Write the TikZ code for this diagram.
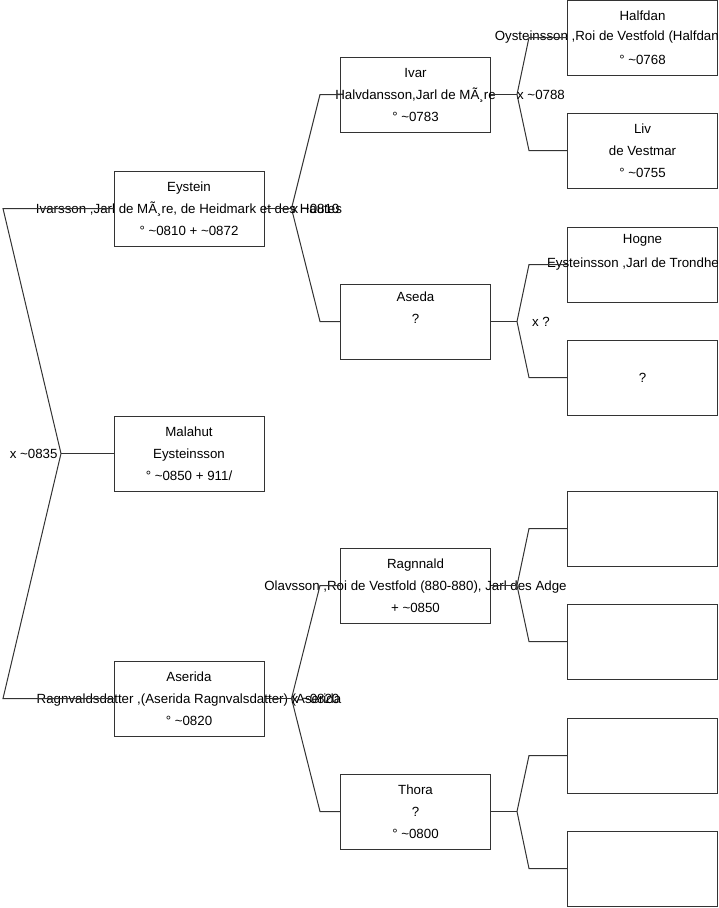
\documentclass[tikz,border=0pt]{standalone}
\usepackage{fontspec}
\setmainfont{Liberation Sans}
\usetikzlibrary{positioning}
\definecolor{linegray}{RGB}{51,51,51}

\begin{document}
\begin{tikzpicture}[x=1pt, y=-1pt, every node/.style={font=\fontsize{13.3}{22}\selectfont},
  person/.style={draw=linegray, line width=1pt, rectangle, minimum width=150pt, minimum height=75pt, inner sep=0pt},
  every label/.style={align=center},
  link/.style={draw=linegray, line width=1pt}]
\useasboundingbox (0,0) rectangle (719,908);
% first generation
\node[person, label={center:{Eystein\\Ivarsson ,Jarl de MÃ¸re, de Heidmark et des Hautes\\° \textasciitilde0810 + \textasciitilde0872}}] (eystein) at (189,208.5) {};
\node[person, label={center:{Malahut\\Eysteinsson\\° \textasciitilde0850 + 911/}}] (malahut) at (189,453.5) {};
\node[person, label={center:{Aserida\\Ragnvaldsdatter ,(Aserida Ragnvalsdatter) (Aserida\\° \textasciitilde0820}}] (aserida) at (189,698.5) {};
% second generation
\node[person, label={center:{Ivar\\Halvdansson,Jarl de MÃ¸re\\° \textasciitilde0783}}] (ivar) at (415.5,94.5) {};
\node[person, label={center:{Aseda\\?\\\strut}}] (aseda) at (415.5,321.5) {};
\node[person, label={center:{Ragnnald\\Olavsson ,Roi de Vestfold (880-880), Jarl des Adge\\+ \textasciitilde0850}}] (ragnnald) at (415.5,585.5) {};
\node[person, label={center:{Thora\\?\\° \textasciitilde0800}}] (thora) at (415.5,811.5) {};
% third generation
\node[person, label={center:{Halfdan\\\strut\\° \textasciitilde0768}}] (halfdan) at (642.5,37.5) {};
\node[anchor=east, inner xsep=0pt] (halfdanname) at (719,37.5) {Oysteinsson ,Roi de Vestfold (Halfdan};
\node[person, label={center:{Liv\\de Vestmar\\° \textasciitilde0755}}] (liv) at (642.5,150.5) {};
\node[person, label={center:{Hogne\\\strut\\\strut}}] (hogne) at (642.5,264.5) {};
\node[anchor=east, inner xsep=0pt] (hognename) at (719,264.5) {Eysteinsson ,Jarl de Trondhe};
\node[person, label={center:?}] (unknown) at (642.5,377.5) {};
\node[person] (emptya) at (642.5,528.5) {};
\node[person] (emptyb) at (642.5,641.5) {};
\node[person] (emptyc) at (642.5,755.5) {};
\node[person] (emptyd) at (642.5,868.5) {};

% root couple
\coordinate (rootfork) at (61,453.5);
\coordinate (roottop) at (3,208.5);
\coordinate (rootbot) at (3,698.5);
\draw[link] (eystein.west) -- (roottop) -- (rootfork) -- (rootbot) -- (aserida.west);
\draw[link] (malahut.west) -- (rootfork);
\node[anchor=east] (rootmarriage) at (rootfork) {x \textasciitilde0835};

% parents of Eystein
\draw[link] (eystein.east) -- ++(27,0) coordinate (eyfork);
\draw[link] (eyfork) -- ([xshift=-20pt]ivar.west) -- (ivar.west);
\draw[link] (eyfork) -- ([xshift=-20pt]aseda.west) -- (aseda.west);
\node (eymarriage) at ([xshift=24pt]eyfork) {x \textasciitilde0810};

% parents of Aserida
\draw[link] (aserida.east) -- ++(27,0) coordinate (aserfork);
\draw[link] (aserfork) -- ([xshift=-20pt]ragnnald.west) -- (ragnnald.west);
\draw[link] (aserfork) -- ([xshift=-20pt]thora.west) -- (thora.west);
\node (asermarriage) at ([xshift=24pt]aserfork) {x \textasciitilde0820};

% parents of Ivar
\draw[link] (ivar.east) -- ++(26,0) coordinate (ivarfork);
\draw[link] (ivarfork) -- ([xshift=-38pt]halfdan.west) -- (halfdan.west);
\draw[link] (ivarfork) -- ([xshift=-38pt]liv.west) -- (liv.west);
\node (ivarmarriage) at ([xshift=24pt]ivarfork) {x \textasciitilde0788};

% parents of Aseda
\draw[link] (aseda.east) -- ++(26,0) coordinate (asedafork);
\draw[link] (asedafork) -- ([xshift=-38pt]hogne.west) -- (hogne.west);
\draw[link] (asedafork) -- ([xshift=-38pt]unknown.west) -- (unknown.west);
\node (asedamarriage) at ([xshift=24pt]asedafork) {x ?};

% parents of Ragnnald
\draw[link] (ragnnald.east) -- ++(26,0) coordinate (ragnfork);
\draw[link] (ragnfork) -- ([xshift=-38pt]emptya.west) -- (emptya.west);
\draw[link] (ragnfork) -- ([xshift=-38pt]emptyb.west) -- (emptyb.west);

% parents of Thora
\draw[link] (thora.east) -- ++(26,0) coordinate (thorafork);
\draw[link] (thorafork) -- ([xshift=-38pt]emptyc.west) -- (emptyc.west);
\draw[link] (thorafork) -- ([xshift=-38pt]emptyd.west) -- (emptyd.west);
\end{tikzpicture}
\end{document}
